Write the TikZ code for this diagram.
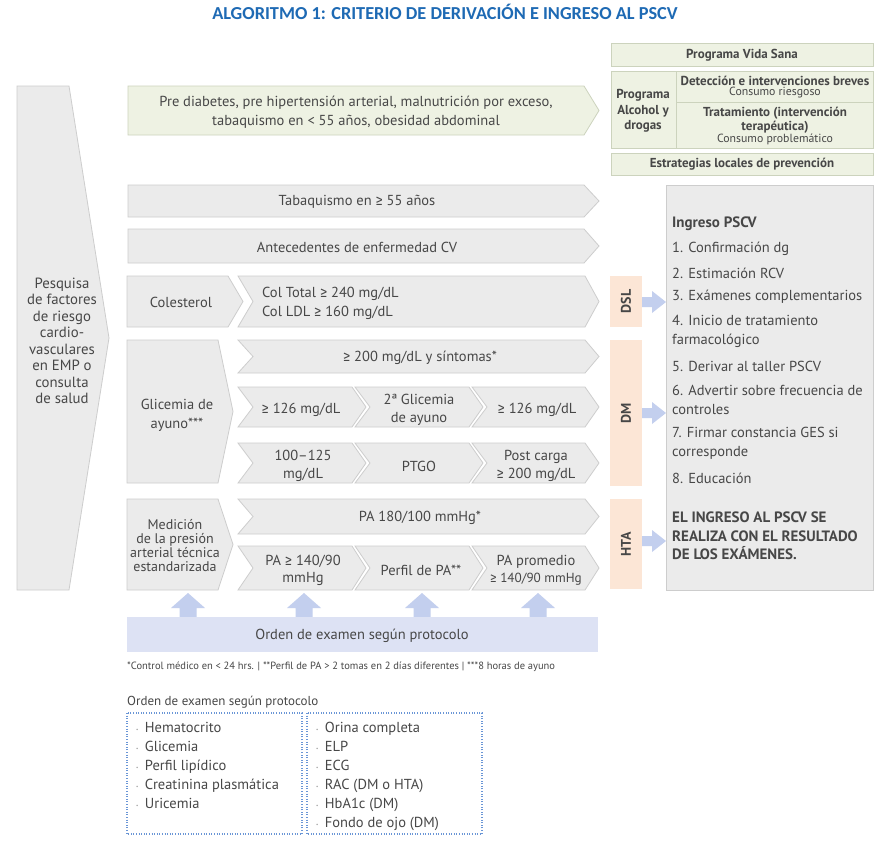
\documentclass[tikz,border=0pt]{standalone}
\usepackage{fontspec}
\setmainfont{PT Sans}
\newfontfamily\titlefont{Carlito}
\newfontfamily\symfont{Fira Sans}
\newcommand{\gsym}{{\symfont ≥}}
\definecolor{gfill}{HTML}{EBEBEB}
\definecolor{gline}{HTML}{CDCDCD}
\definecolor{vfill}{HTML}{EEF2E3}
\definecolor{vline}{HTML}{CCD3BD}
\definecolor{peach}{HTML}{FCE6D6}
\definecolor{lav}{HTML}{DDE2F4}
\definecolor{barrow}{HTML}{C3CFEE}
\definecolor{tcol}{HTML}{474747}
\definecolor{tblue}{HTML}{1E6AB4}
\definecolor{dotc}{HTML}{6A96D6}
\definecolor{bulc}{HTML}{9A9A9A}
\newcommand{\mychev}[5]{\draw[#5] (#1,#3) -- (#2,#3) -- ({#2+14},{(#3+#4)/2}) -- (#2,#4) -- (#1,#4) -- ({#1+15},{(#3+#4)/2}) -- cycle;}
\newcommand{\mypbox}[5]{\draw[#5] (#1,#3) -- (#2,#3) -- ({#2+15},{(#3+#4)/2}) -- (#2,#4) -- (#1,#4) -- cycle;}
\newcommand{\uparr}[1]{\fill[barrow] ({#1-8.5},617) -- ({#1-8.5},608) -- ({#1-17},608) -- (#1,593) -- ({#1+17},608) -- ({#1+8.5},608) -- ({#1+8.5},617) -- cycle;}
\newcommand{\rarr}[1]{\fill[barrow] (642,{#1-5}) -- (652,{#1-5}) -- (652,{#1-11}) -- (666,#1) -- (652,{#1+11}) -- (652,{#1+5}) -- (642,{#1+5}) -- cycle;}
\newcommand{\bul}{{\color{bulc}\raisebox{1.5pt}{\fontsize{5}{5}\selectfont\textbullet}}\hspace{6.5pt}}
\begin{document}
\begin{tikzpicture}[x=1pt,y=-1pt,
  gbox/.style={fill=gfill,draw=gline,line width=0.8pt},
  vbox/.style={fill=vfill,draw=vline,line width=0.8pt},
  txt/.style={text=tcol,font=\fontsize{14.5}{17}\selectfont,align=center,inner sep=0pt},
  txtb/.style={text=tcol,font=\fontsize{13}{15.5}\selectfont\bfseries,align=center,inner sep=0pt},
  txts/.style={text=tcol,font=\fontsize{11.8}{13}\selectfont,align=center,inner sep=0pt},
  ltxt/.style={text=tcol,font=\fontsize{14.5}{19}\selectfont,align=left,anchor=west,inner sep=0pt},
  btxt/.style={text=tcol,font=\fontsize{14.5}{19}\selectfont,anchor=base west,inner sep=0pt},
  tag/.style={fill=peach,draw=none},
  dotbox/.style={draw=dotc,line width=1.1pt,dash pattern=on 1pt off 1.6pt}
]
\useasboundingbox (0,0) rectangle (891,844);
\fill[white] (0,0) rectangle (891,844);

% title
\node[text=tblue,font=\fontsize{18.3}{20}\selectfont\titlefont\bfseries,inner sep=0pt] (title) at (445,12) {ALGORITMO 1: CRITERIO DE DERIVACIÓN E INGRESO AL PSCV};

% left big arrow
\draw[gbox] (17,86) -- (69,86) -- (109,338) -- (69,590) -- (17,590) -- cycle;
\node[txt,font=\fontsize{14.8}{16.5}\selectfont] (pesq) at (62,341) {Pesquisa\\de factores\\de riesgo\\cardio-\\vasculares\\en EMP o\\consulta\\de salud};

% pre diabetes
\mypbox{128}{584}{86}{135}{vbox}
\node[txt,font=\fontsize{14.5}{19}\selectfont] (pre) at (356,112) {Pre diabetes, pre hipertensión arterial, malnutrición por exceso,\\tabaquismo en < 55 años, obesidad abdominal};

% top right programs
\draw[vbox] (611,43) rectangle (873,66);
\node[txtb] (vida) at (742,55.5) {Programa Vida Sana};
\draw[vbox] (611,71) rectangle (873,148);
\draw[draw=vline,line width=0.8pt] (676,71) -- (676,148);
\draw[draw=vline,line width=0.8pt] (676,102) -- (873,102);
\node[txtb] (alc) at (643,111) {Programa\\Alcohol y\\drogas};
\node[txtb] (det) at (775,80.5) {Detección e intervenciones breves};
\node[txts] (cr) at (775,93) {Consumo riesgoso};
\node[txtb,font=\fontsize{13}{13.5}\selectfont\bfseries] (trat) at (775,120) {Tratamiento (intervención\\terapéutica)};
\node[txts] (cp) at (775,139) {Consumo problemático};
\draw[vbox] (611,153) rectangle (873,175);
\node[txtb] (estr) at (742,164.5) {Estrategias locales de prevención};

% tabaquismo, antecedentes
\mypbox{128}{584}{185}{217}{gbox}
\node[txt] (tab) at (357,202) {Tabaquismo en \gsym{} 55 años};
\mypbox{128}{584}{229}{263}{gbox}
\node[txt] (ant) at (357,247) {Antecedentes de enfermedad CV};

% colesterol
\mypbox{127}{228}{276}{327}{gbox}
\node[txt] (col) at (181,302.5) {Colesterol};
\mychev{238}{585}{276}{327}{gbox}
\node[txt,align=left,anchor=west,font=\fontsize{14.5}{19}\selectfont] (colv) at (262,303) {Col Total \gsym{} 240 mg/dL\\Col LDL \gsym{} 160 mg/dL};

% glicemia
\mypbox{127}{218}{340}{483}{gbox}
\node[txt,font=\fontsize{14.5}{19}\selectfont] (gli) at (177,415) {Glicemia de\\ayuno***};
\mychev{238}{585}{340}{373}{gbox}
\node[txt] (g1) at (420,357.5) {\gsym{} 200 mg/dL y síntomas*};
\mychev{238}{352}{387}{427}{gbox}
\mychev{355}{469}{387}{427}{gbox}
\mychev{472}{585}{387}{427}{gbox}
\node[txt] (g21) at (301,410) {\gsym{} 126 mg/dL};
\node[txt,font=\fontsize{14.5}{18}\selectfont] (g22) at (419,410) {2ª Glicemia\\de ayuno};
\node[txt] (g23) at (537,410) {\gsym{} 126 mg/dL};
\mychev{238}{352}{443}{483}{gbox}
\mychev{355}{469}{443}{483}{gbox}
\mychev{472}{585}{443}{483}{gbox}
\node[txt,font=\fontsize{14.5}{18}\selectfont] (g31) at (303,466) {100–125\\mg/dL};
\node[txt] (g32) at (419,466) {PTGO};
\node[txt,font=\fontsize{14.5}{18}\selectfont] (g33) at (536,466) {Post carga\\\gsym{} 200 mg/dL};

% HTA
\mypbox{127}{218}{499}{590}{gbox}
\node[txt,font=\fontsize{14}{14}\selectfont] (med) at (175,546) {Medición\\de la presión\\arterial técnica\\estandarizada};
\mychev{238}{585}{499}{534}{gbox}
\node[txt] (h1) at (420,517.5) {PA 180/100 mmHg*};
\mychev{238}{352}{546}{590}{gbox}
\mychev{355}{469}{546}{590}{gbox}
\mychev{472}{585}{546}{590}{gbox}
\node[txt,font=\fontsize{14.5}{17}\selectfont] (h21) at (303,570) {PA \gsym{} 140/90\\mmHg};
\node[txt] (h22) at (421,570) {Perfil de PA**};
\node[txt,font=\fontsize{14.5}{17}\selectfont] (h23) at (536,570) {PA promedio\\{\fontsize{13.2}{17}\selectfont\gsym{} 140/90 mmHg}};

% tags
\fill[tag] (610,276) rectangle (642,327);
\node[txtb,rotate=90,font=\fontsize{14}{15}\selectfont\bfseries] (dsl) at (626,301.5) {DSL};
\fill[tag] (610,340) rectangle (642,486);
\node[txtb,rotate=90,font=\fontsize{14}{15}\selectfont\bfseries] (dm) at (626,413) {DM};
\fill[tag] (610,499) rectangle (642,589);
\node[txtb,rotate=90,font=\fontsize{14}{15}\selectfont\bfseries] (hta) at (626,544) {HTA};
\rarr{302}
\rarr{413}
\rarr{541}

% PSCV box
\draw[gbox] (666,185) rectangle (873,590);
\node[ltxt,font=\fontsize{15}{19}\selectfont\bfseries] (ing) at (672,224) {Ingreso PSCV};
\node[ltxt] (i1) at (672,249) {1. Confirmación dg};
\node[ltxt] (i2) at (672,273) {2. Estimación RCV};
\node[ltxt] (i3) at (672,297) {3. Exámenes complementarios};
\node[ltxt] (i4) at (672,331.5) {4. Inicio de tratamiento\\farmacológico};
\node[ltxt] (i5) at (672,366) {5. Derivar al taller PSCV};
\node[ltxt] (i6) at (672,400) {6. Advertir sobre frecuencia de\\controles};
\node[ltxt] (i7) at (672,443.5) {7. Firmar constancia GES si\\corresponde};
\node[ltxt] (i8) at (672,478) {8. Educación};
\node[ltxt,font=\fontsize{15}{18.5}\selectfont\bfseries] (nota) at (672,536) {EL INGRESO AL PSCV SE\\REALIZA CON EL RESULTADO\\DE LOS EXÁMENES.};

% up arrows and bar
\uparr{188}
\uparr{304}
\uparr{422}
\uparr{538}
\fill[lav] (127,617) rectangle (598,652);
\node[txt] (orden) at (362,635.5) {Orden de examen según protocolo};

% footnote
\node[text=tcol,font=\fontsize{10.5}{12}\selectfont,anchor=west,inner sep=0pt] (foot) at (127,667) {*Control médico en < 24 hrs. | **Perfil de PA > 2 tomas en 2 días diferentes | ***8 horas de ayuno};

% exam list
\node[text=tcol,font=\fontsize{13}{15}\selectfont,anchor=west,inner sep=0pt] (olist) at (127,702) {Orden de examen según protocolo};
\draw[dotbox] (127,713) rectangle (302,834);
\draw[dotbox] (307,713) rectangle (482,834);
\foreach \t [count=\i from 0] in {Hematocrito,Glicemia,Perfil lipídico,Creatinina plasmática,Uricemia}{
  \node[btxt] (a\i) at (136,{732.5+19*\i}) {\bul\t};
}
\foreach \t [count=\i from 0] in {Orina completa,ELP,ECG,RAC (DM o HTA),HbA1c (DM),Fondo de ojo (DM)}{
  \node[btxt] (b\i) at (316,{732.5+19*\i}) {\bul\t};
}
\end{tikzpicture}
\end{document}
